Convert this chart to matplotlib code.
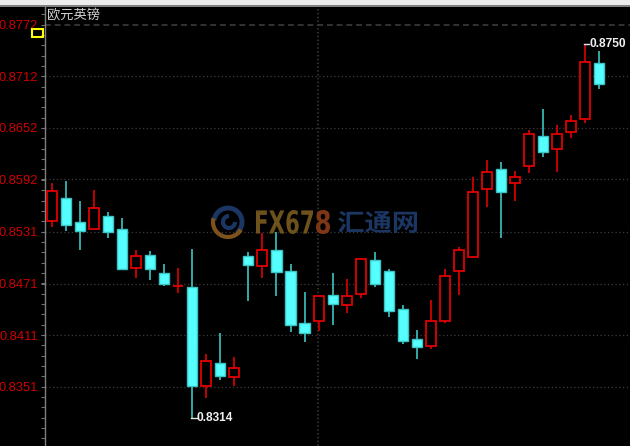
import numpy as np
import matplotlib
matplotlib.use("Agg")
import matplotlib.pyplot as plt
from matplotlib.patches import Rectangle, PathPatch, Arc
from matplotlib.textpath import TextPath
from matplotlib.font_manager import FontProperties
from matplotlib.transforms import Affine2D
from matplotlib.lines import Line2D

# EUR/GBP daily candles
opens = [0.85434, 0.85708, 0.85425, 0.85341, 0.85495, 0.85348, 0.84887, 0.85042, 0.84836, 0.84681,
         0.84673, 0.83518, 0.83782, 0.83623, 0.85030, 0.84910, 0.85096, 0.84859, 0.84247, 0.84278,
         0.84577, 0.84456, 0.84584, 0.84980, 0.84859, 0.84417, 0.84065, 0.83980, 0.84278, 0.84852,
         0.85022, 0.85806, 0.86038, 0.85876, 0.86077, 0.86422, 0.86271, 0.86472, 0.86620, 0.87271]
highs = [0.85882, 0.85902, 0.85670, 0.85797, 0.85538, 0.85472, 0.85100, 0.85088, 0.84940, 0.84894,
         0.85108, 0.83887, 0.84131, 0.83856, 0.85077, 0.85301, 0.85313, 0.84940, 0.84611, 0.84565,
         0.84829, 0.84759, 0.84991, 0.85077, 0.84875, 0.84464, 0.84173, 0.84518, 0.84882, 0.85131,
         0.85945, 0.86146, 0.86127, 0.86022, 0.86495, 0.86736, 0.86553, 0.86670, 0.87500, 0.87414]
lows = [0.85364, 0.85324, 0.85100, 0.85330, 0.85236, 0.84870, 0.84778, 0.84751, 0.84681, 0.84603,
        0.83140, 0.83375, 0.83588, 0.83522, 0.84510, 0.84778, 0.84568, 0.84150, 0.84033, 0.84161,
        0.84227, 0.84367, 0.84545, 0.84666, 0.84317, 0.84003, 0.83829, 0.83948, 0.84254, 0.84573,
        0.85010, 0.85603, 0.85236, 0.85673, 0.85992, 0.86185, 0.86010, 0.86406, 0.86573, 0.86969]
closes = [0.85786, 0.85394, 0.85324, 0.85585, 0.85313, 0.84879, 0.85030, 0.84879, 0.84704, 0.84685,
          0.83518, 0.83805, 0.83631, 0.83727, 0.84922, 0.85100, 0.84840, 0.84227, 0.84138, 0.84565,
          0.84468, 0.84561, 0.84991, 0.84704, 0.84390, 0.84038, 0.83968, 0.84270, 0.84801, 0.85096,
          0.85771, 0.86010, 0.85778, 0.85945, 0.86445, 0.86243, 0.86445, 0.86600, 0.87290, 0.87027]

ytick_labels = ["0.8351", "0.8411", "0.8471", "0.8531", "0.8592", "0.8652", "0.8712", "0.8772"]
title = "欧元英镑"

W, H = 630, 446
RED = "#e00000"
CYAN = "#55ffff"
CYAN_EDGE = "#3cc4c4"

fig = plt.figure(figsize=(W / 100, H / 100), dpi=100)
fig.patch.set_facecolor("black")
ax = fig.add_axes([45 / W, 0, (W - 45) / W, (H - 7) / H])
ax.set_facecolor("black")

n = len(opens)
x = np.arange(n)

# grid
yt = [float(s) for s in ytick_labels]
for v in yt[:-1]:
    ax.axhline(v, color="#3c3c3c", lw=0.9, ls=(0, (1, 2)), zorder=0)
ax.axhline(yt[-1], color="#333333", lw=1.4, ls=(0, (3, 2)), zorder=0)
ax.axvline(18.95, color="#3c3c3c", lw=1.1, ls=(0, (1, 1.5)), zorder=0)

# watermark (FX678 汇通网)
def logo_text(s, box, color, family, weight="bold"):
    tp = TextPath((0, 0), s, size=50, prop=FontProperties(family=family, weight=weight))
    ext = tp.get_extents()
    x0, y0, x1, y1 = box
    tr = (Affine2D().translate(-ext.x0, -ext.y0)
          .scale((x1 - x0) / ext.width / W, (y1 - y0) / ext.height / H)
          .translate(x0 / W, 1 - y1 / H))
    fig.patches.append(PathPatch(tp, transform=tr + fig.transFigure, facecolor=color,
                                 edgecolor="none", zorder=1))

logo_text("FX67", (256, 210, 313, 234), "#6e521c", "DejaVu Sans")
logo_text("8", (316, 210, 330, 234), "#7e3614", "DejaVu Sans")
logo_text("汇通网", (338, 211, 417, 233), "#1b3662", "Noto Sans CJK SC")
cx, cy = 228 / W, 1 - 222 / H
fig.patches.append(Arc((cx, cy), 28 / W, 28 / H, theta1=300, theta2=170, color="#1b3662",
                       lw=3.5, transform=fig.transFigure))
fig.patches.append(Arc((cx, cy), 30 / W, 30 / H, theta1=160, theta2=320, color="#7e521c",
                       lw=3, transform=fig.transFigure))
fig.patches.append(Arc((cx + 1 / W, cy), 12 / W, 12 / H, theta1=90, theta2=360, color="#1b3662",
                       lw=3, transform=fig.transFigure))

# candles
bw = 0.72
for i in range(n):
    o, h, l, c = opens[i], highs[i], lows[i], closes[i]
    up = c >= o
    wick = RED if up else CYAN_EDGE
    ax.vlines(x[i], l, h, color=wick, lw=1.2, zorder=3)
    bottom = min(o, c)
    height = abs(c - o)
    if up:
        ax.add_patch(Rectangle((x[i] - bw / 2, bottom), bw, height, facecolor="black",
                               edgecolor=RED, lw=1.3, zorder=4))
    else:
        ax.add_patch(Rectangle((x[i] - bw / 2, bottom), bw, height, facecolor=CYAN,
                               edgecolor=CYAN_EDGE, lw=1, zorder=4))

# extreme annotations
lo_i = int(np.argmin(lows))
hi_i = int(np.argmax(highs))
for i, v in [(lo_i, lows[lo_i]), (hi_i, highs[hi_i])]:
    ax.plot([x[i] - 0.1, x[i] + 0.3], [v, v], color="#e8e8e8", lw=1, zorder=5)
    ax.text(x[i] + 0.3, v, f"{v:.4f}", color="#f0f0f0", fontsize=8.6, va="center", ha="left",
            weight="bold", family=["Liberation Sans", "DejaVu Sans"], zorder=5)

# y axis
ax.set_yticks(yt)
ax.set_yticklabels(ytick_labels)
step = (yt[-1] - yt[0]) / (len(yt) - 1)
minor = np.arange(yt[0] - 9 * step / 5, yt[-1] + step / 2, step / 5)
ax.set_yticks(minor, minor=True)
ax.tick_params(axis="y", which="both", direction="out", length=3, width=0.8, color="#707070",
               labelcolor="#d00000", labelsize=9.3, pad=2)
for t in ax.get_yticklabels():
    t.set_family(["Liberation Sans", "DejaVu Sans"])
ax.set_xticks([])
ax.set_xlim(-0.5, 41.2)
ax.set_ylim(0.82820, 0.87926)
for s in ["top", "right", "bottom"]:
    ax.spines[s].set_visible(False)
ax.spines["left"].set_color("#808080")
ax.spines["left"].set_linewidth(1)

# header strip, title, yellow marker
fig.patches.append(Rectangle((0, 1 - 5 / H), 1, 5 / H, transform=fig.transFigure,
                             facecolor="#ececec", edgecolor="none"))
fig.add_artist(Line2D([0, 1], [1 - 5.5 / H, 1 - 5.5 / H], transform=fig.transFigure,
                      color="#9a9a9a", lw=1.2))
fig.text(47 / W, 1 - 15 / H, title, color="#d0d0d0", fontsize=9.5, va="center", ha="left",
         family=["Noto Sans CJK SC", "DejaVu Sans"])
fig.patches.append(Rectangle((32 / W, 1 - 37 / H), 11 / W, 8 / H, transform=fig.transFigure,
                             facecolor="none", edgecolor="#ffff00", lw=1.5))

fig.savefig("out.png", dpi=100, facecolor="black")
